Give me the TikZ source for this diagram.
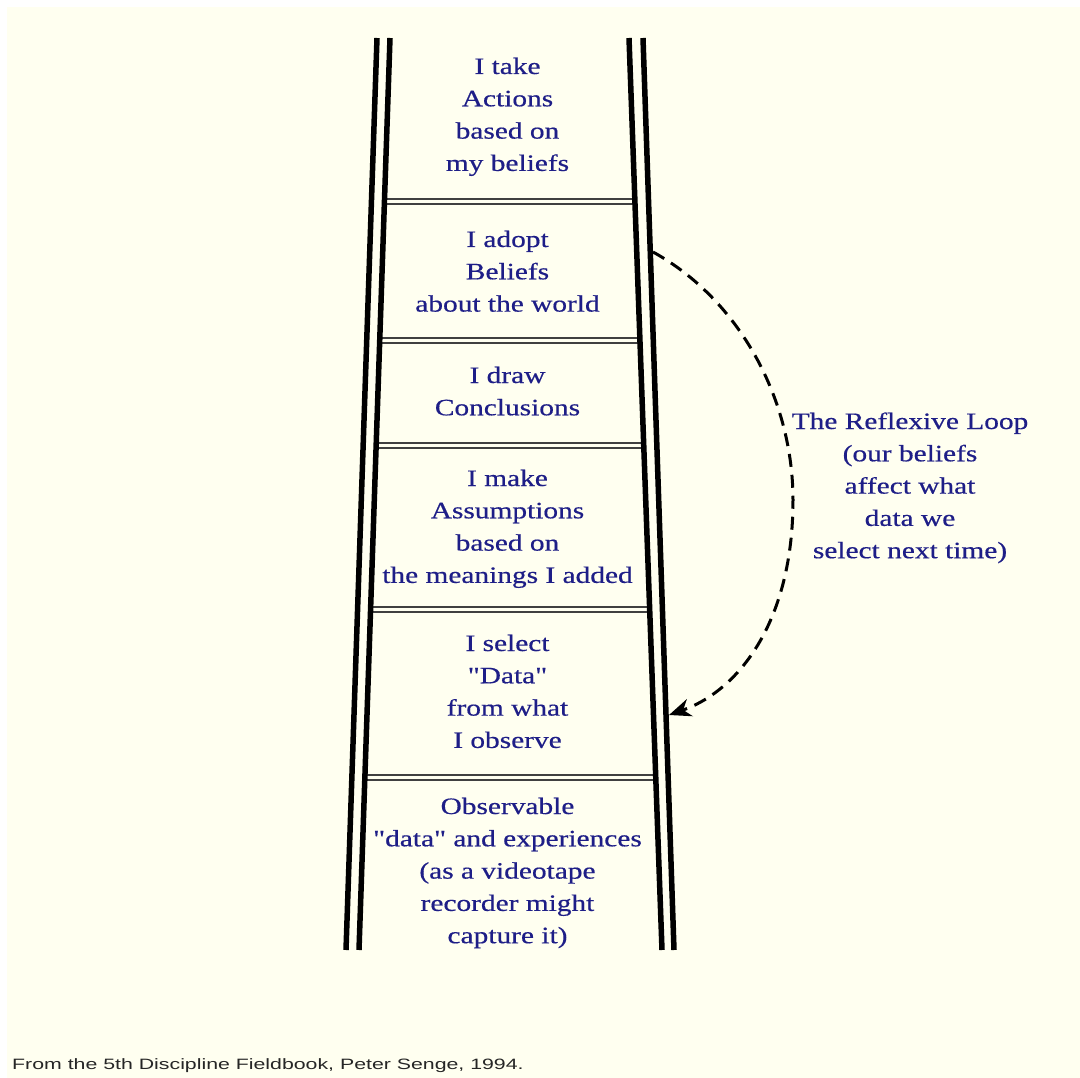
\documentclass[tikz,border=0pt]{standalone}
\usepackage{fontspec}
\setmainfont[Ligatures=TeXOff,FakeStretch=1.25,FakeBold=0.5]{Liberation Serif}
\newfontfamily\capfont[FakeStretch=1.42]{Liberation Sans}
\usetikzlibrary{arrows.meta}
\definecolor{ivorybg}{HTML}{FFFFF0}
\definecolor{navytext}{RGB}{30,30,135}
\newcommand{\ladtext}[1]{\parbox[t]{340pt}{\centering\fontsize{23.5}{32.3}\selectfont #1}}
\tikzset{
  rail/.style={line width=5.5pt, black},
  rung/.style={line width=1.6pt, black!75},
  lad/.style={inner sep=0pt, anchor=base, text=navytext},
  looparrow/.style={line width=3pt, dash pattern=on 13pt off 8pt, -{Stealth[length=22pt,width=18pt,inset=7pt]}},
}
\begin{document}
\begin{tikzpicture}[x=1pt,y=-1pt]
\fill[white] (0,0) rectangle (1080,1078);
\fill[ivorybg] (7,7) rectangle (1080,1078);
\useasboundingbox (0,0) rectangle (1080,1078);
% rungs
\foreach \yy in {201.5,340.5,445.5,609.5,777.5}{
  \pgfmathsetmacro{\xl}{390-(\yy-38)/912*31}
  \pgfmathsetmacro{\xr}{629+(\yy-38)/912*33}
  \draw[rung] (\xl,\yy-2.6) -- (\xr,\yy-2.6);
  \draw[rung] (\xl,\yy+2.6) -- (\xr,\yy+2.6);
}
% rails
\draw[rail] (377,38) -- (346,950);
\draw[rail] (390,38) -- (359,950);
\draw[rail] (629,38) -- (662,950);
\draw[rail] (643,38) -- (674,950);
% texts
\node[lad] (t1) at (507.5,74) {\ladtext{I take\\Actions\\based on\\my beliefs}};
\node[lad] (t2) at (507.5,247) {\ladtext{I adopt\\Beliefs\\about the world}};
\node[lad] (t3) at (507.5,383) {\ladtext{I draw\\Conclusions}};
\node[lad] (t4) at (507.5,486) {\ladtext{I make\\Assumptions\\based on\\the meanings I added}};
\node[lad] (t5) at (507.5,651) {\ladtext{I select\\"Data"\\from what\\I observe}};
\node[lad] (t6) at (507.5,814) {\ladtext{Observable\\"data" and experiences\\(as a videotape\\recorder might\\capture it)}};
\node[lad] (loop) at (910,429) {\ladtext{The Reflexive Loop\\(our beliefs\\affect what\\data we\\select next time)}};
% reflexive loop arrow
\coordinate (loopstart) at (653,252);
\coordinate (loopend) at (669,715);
\draw[looparrow] (loopstart) .. controls (740,300) and (793,400) .. (793,500) .. controls (793,620) and (740,690) .. (loopend);
% caption
\node[anchor=base west, inner sep=0pt, text=black!85] (cap) at (12,1069) {\capfont\fontsize{15}{18}\selectfont From the 5th Discipline Fieldbook, Peter Senge, 1994.};
\end{tikzpicture}
\end{document}
